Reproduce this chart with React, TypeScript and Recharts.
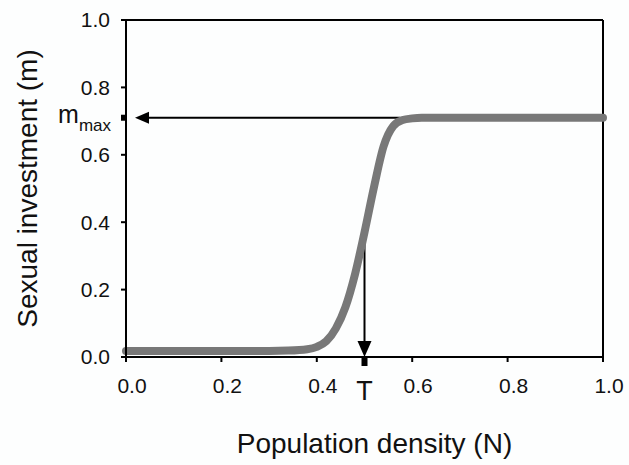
import { LineChart, Line, XAxis, YAxis, ReferenceLine } from "recharts";

// population density (x) and sexual investment (y)
const density = [0, 0.1, 0.2, 0.3, 0.34, 0.38, 0.4, 0.42, 0.44, 0.46, 0.48, 0.5, 0.52, 0.54, 0.56, 0.58, 0.6, 0.62, 0.66, 0.7, 0.8, 0.9, 1.0];
const investment = [0.018, 0.018, 0.018, 0.018, 0.019, 0.023, 0.03, 0.047, 0.085, 0.148, 0.245, 0.37, 0.505, 0.625, 0.685, 0.703, 0.708, 0.71, 0.71, 0.71, 0.71, 0.71, 0.71];

const xTicks = [0, 0.2, 0.4, 0.6, 0.8, 1.0];
const yTicks = [0, 0.2, 0.4, 0.6, 0.8, 1.0];

const mMax = 0.71;
const threshold = 0.5;
const thresholdM = 0.36;
const plateauStart = 0.575;

const data = density.map((n, i) => ({ n, m: investment[i] }));

const fontFamily = "'Liberation Sans', Arial, sans-serif";
const ink = "#111";

// arrow pointing left onto the y axis, with the m_max marker
const leftArrow = (p: any) => {
  const { x1, y1, x2 } = p;
  const tip = x2 + 9;
  return (
    <g>
      <line x1={x1} y1={y1} x2={tip + 12} y2={y1} stroke="#000" strokeWidth={2} />
      <polygon points={`${tip},${y1} ${tip + 14},${y1 - 6} ${tip + 14},${y1 + 6}`} fill="#000" />
      <rect x={x2 - 5} y={y1 - 3} width={5} height={6} fill="#000" />
      <text x={x2 - 15} y={y1 + 5} textAnchor="end" fontSize={25} fill={ink} fontFamily={fontFamily}>
        m<tspan fontSize={17} dy={8}>max</tspan>
      </text>
    </g>
  );
};

// arrow pointing down onto the x axis, with the T marker
const downArrow = (p: any) => {
  const { x1, y1, y2 } = p;
  const tip = y2;
  return (
    <g>
      <line x1={x1} y1={y1} x2={x1} y2={tip - 14} stroke="#000" strokeWidth={2} />
      <polygon points={`${x1},${tip} ${x1 - 7},${tip - 16} ${x1 + 7},${tip - 16}`} fill="#000" />
      <rect x={x1 - 3} y={y2} width={6} height={9} fill="#000" />
      <text x={x1} y={y2 + 43} textAnchor="middle" fontSize={27} fill={ink} fontFamily={fontFamily}>
        T
      </text>
    </g>
  );
};

export default function App() {
  return (
    <div style={{ position: "absolute", left: 0, top: 0, width: 629, height: 465, background: "#fdfefe" }}>
      <LineChart width={629} height={465} data={data} margin={{ top: 20, right: 26, left: 0, bottom: 0 }}>
        <XAxis
          dataKey="n"
          type="number"
          domain={[0, 1]}
          ticks={xTicks}
          height={108}
          tickFormatter={(v) => v.toFixed(1)}
          tick={{ fill: ink, fontSize: 21, fontFamily, dx: 6 }}
          tickSize={5}
          tickMargin={16}
          axisLine={{ stroke: "#000", strokeWidth: 2 }}
          tickLine={{ stroke: "#000", strokeWidth: 2 }}
          label={{
            content: ({ viewBox }: any) => (
              <text
                x={viewBox.x + viewBox.width / 2 + 10}
                y={viewBox.y + 96}
                textAnchor="middle"
                fontSize={28}
                fill={ink}
                fontFamily={fontFamily}
              >
                Population  density (N)
              </text>
            ),
          }}
        />
        <YAxis
          type="number"
          domain={[0, 1]}
          ticks={yTicks}
          width={126}
          tickFormatter={(v) => v.toFixed(1)}
          tick={{ fill: ink, fontSize: 21, fontFamily }}
          tickSize={5}
          tickMargin={11}
          axisLine={{ stroke: "#000", strokeWidth: 2 }}
          tickLine={{ stroke: "#000", strokeWidth: 2 }}
          label={{
            content: ({ viewBox }: any) => {
              const cx = viewBox.x + 37;
              const cy = viewBox.y + viewBox.height / 2;
              return (
                <text
                  x={cx}
                  y={cy}
                  transform={`rotate(-90 ${cx} ${cy})`}
                  textAnchor="middle"
                  fontSize={28}
                  fill={ink}
                  fontFamily={fontFamily}
                >
                  Sexual investment (m)
                </text>
              );
            },
          }}
        />
        <ReferenceLine y={1} stroke="#000" strokeWidth={2} />
        <ReferenceLine x={1} stroke="#000" strokeWidth={2} />
        <ReferenceLine
          segment={[{ x: plateauStart, y: mMax }, { x: 0, y: mMax }]}
          ifOverflow="visible"
          shape={leftArrow}
        />
        <ReferenceLine
          segment={[{ x: threshold, y: thresholdM }, { x: threshold, y: 0 }]}
          ifOverflow="visible"
          shape={downArrow}
        />
        <Line
          type="monotone"
          dataKey="m"
          stroke="#787878"
          strokeWidth={8}
          strokeLinecap="round"
          dot={false}
          activeDot={false}
          isAnimationActive={false}
        />
      </LineChart>
    </div>
  );
}
